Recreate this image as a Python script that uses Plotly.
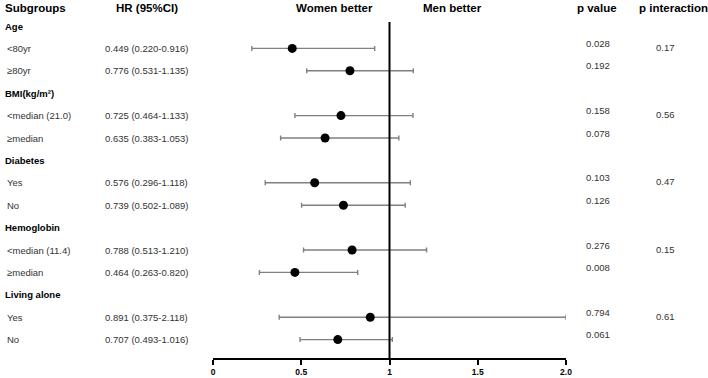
import plotly.graph_objects as go

# ---------------- data ----------------
groups = ["Age", "BMI(kg/m²)", "Diabetes", "Hemoglobin", "Living alone"]
subgroups = [
    ["<80yr", "≥80yr"],
    ["<median (21.0)", "≥median"],
    ["Yes", "No"],
    ["<median (11.4)", "≥median"],
    ["Yes", "No"],
]
hr = [0.449, 0.776, 0.725, 0.635, 0.576, 0.739, 0.788, 0.464, 0.891, 0.707]
ci_low = [0.220, 0.531, 0.464, 0.383, 0.296, 0.502, 0.513, 0.263, 0.375, 0.493]
ci_high = [0.916, 1.135, 1.133, 1.053, 1.118, 1.089, 1.210, 0.820, 2.118, 1.016]
hr_text = ["0.449 (0.220-0.916)", "0.776 (0.531-1.135)", "0.725 (0.464-1.133)",
           "0.635 (0.383-1.053)", "0.576 (0.296-1.118)", "0.739 (0.502-1.089)",
           "0.788 (0.513-1.210)", "0.464 (0.263-0.820)", "0.891 (0.375-2.118)",
           "0.707 (0.493-1.016)"]
p_values = ["0.028", "0.192", "0.158", "0.078", "0.103", "0.126",
            "0.276", "0.008", "0.794", "0.061"]
p_interaction = ["0.17", "0.56", "0.47", "0.15", "0.61"]
tick_vals = [0, 0.5, 1, 1.5, 2]
tick_text = ["0", "0.5", "1", "1.5", "2.0"]
x_max = 2.0

# ---------------- layout helpers ----------------
W, H = 708, 378
AXIS_Y = 358          # pixel row of x axis
ROW0 = 26             # first group header row (px)
STEP = 22.4           # row spacing (px)
FONT = "Liberation Sans, Arial, sans-serif"
TXT = "#333333"

def px(x):
    return x / W

# compute row positions
group_y, sub_y = [], []
r = 0
for g, subs in zip(groups, subgroups):
    group_y.append(ROW0 + STEP * r)
    r += 1
    for s in subs:
        sub_y.append(ROW0 + STEP * r)
        r += 1

flat_labels = [s for subs in subgroups for s in subs]

err_plus = [min(h, x_max) - v for h, v in zip(ci_high, hr)]
err_minus = [v - l for v, l in zip(hr, ci_low)]

fig = go.Figure()
fig.add_trace(go.Scatter(
    x=hr, y=sub_y, mode="markers",
    marker=dict(color="black", size=9),
    error_x=dict(type="data", symmetric=False, array=err_plus, arrayminus=err_minus,
                 color="#808080", thickness=1.4, width=2.5),
    cliponaxis=False, showlegend=False, hoverinfo="skip",
))

ann = []
def add(text, x, y, size=9.5, bold=False, color=TXT, xanchor="left", yshift=0):
    ann.append(dict(text=text, x=px(x), xref="paper", y=y, yref="y",
                    xanchor=xanchor, yanchor="middle", showarrow=False, yshift=yshift,
                    font=dict(family=FONT, size=size, color=color,
                              weight="bold" if bold else "normal")))

HEAD_Y = 8
add("Subgroups", 3, HEAD_Y, size=11.5, bold=True, color="black")
add("HR (95%CI)", 147, HEAD_Y, size=11.5, bold=True, color="black", xanchor="center")
add("Women better", 334, HEAD_Y, size=11.5, bold=True, color="black", xanchor="center")
add("Men better", 452, HEAD_Y, size=11.5, bold=True, color="black", xanchor="center")
add("p value", 597, HEAD_Y, size=11.5, bold=True, color="black", xanchor="center")
add("p interaction", 673, HEAD_Y, size=11.5, bold=True, color="black", xanchor="center")

for g, y in zip(groups, group_y):
    add(g, 3, y, bold=True, color="black")
for lab, y, t, p in zip(flat_labels, sub_y, hr_text, p_values):
    add(lab, 5, y)
    add(t, 103, y)
    add(p, 584, y, yshift=5)
for i, pi in enumerate(p_interaction):
    add(pi, 654, sub_y[2 * i], yshift=1)

fig.add_shape(type="line", x0=1, x1=1, y0=22, y1=AXIS_Y, xref="x", yref="y",
              line=dict(color="black", width=2))

fig.update_layout(
    width=W, height=H, margin=dict(l=0, r=0, t=0, b=0),
    plot_bgcolor="white", paper_bgcolor="white",
    annotations=ann,
    xaxis=dict(domain=[px(213), px(566)], range=[0, x_max],
               showline=True, linecolor="black", linewidth=2,
               ticks="outside", ticklen=5, tickwidth=2, tickcolor="black",
               tickvals=tick_vals, ticktext=tick_text, showgrid=False, zeroline=False,
               automargin=False,
               tickfont=dict(family=FONT, size=8.5, color="black", weight="bold")),
    yaxis=dict(domain=[(H - AXIS_Y) / H, 1], range=[AXIS_Y, 0], visible=False,
               showgrid=False, zeroline=False, automargin=False),
)

fig.write_html("out.html", config={"displayModeBar": False},
               post_script="document.body.style.margin='0';document.body.style.overflow='hidden';")
